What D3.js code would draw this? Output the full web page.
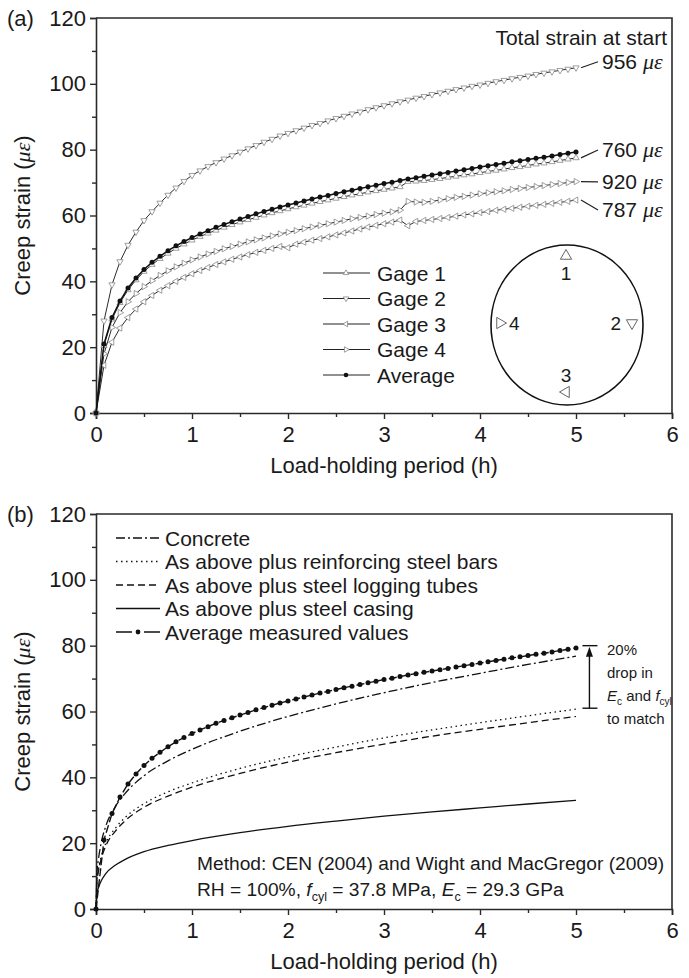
<!DOCTYPE html>
<html><head><meta charset="utf-8">
<script src="https://cdn.jsdelivr.net/npm/d3@7"></script>
<style>
body{margin:0;background:#fff}
svg text{font-family:"Liberation Sans",Arial,sans-serif;fill:#1a1a1a}
</style>
</head><body>
<svg id="c" width="689" height="978"></svg>
<script>
// ---------- DATA ----------
const minutes = [0,5,10,15,20,25,30,35,40,45,50,55,60,65,70,75,80,85,90,95,100,105,110,115,120,125,130,135,140,145,150,155,160,165,170,175,180,185,190,195,200,205,210,215,220,225,230,235,240,245,250,255,260,265,270,275,280,285,290,295,300];
const gage1 = [0,20.5,28.5,33.5,37.4,40.4,43,45.1,46.9,48.5,50,51.3,52.5,53.6,54.6,55.5,56.4,57.2,58,58.7,59.4,60.1,60.8,61.4,62,62.6,63.1,63.7,64.2,64.7,65.2,65.7,66.2,66.6,67.1,67.5,67.9,68.3,68.7,70.3,70.4,70.6,70.9,71.2,71.6,71.9,72.3,72.6,73,73.4,73.7,74.1,74.5,74.8,75.2,75.6,75.9,76.3,76.7,77.1,77.5];
const gage2 = [0,28,39,46,51,55,58.5,61.2,63.8,66.2,68.4,70.4,72.2,73.6,74.9,76.1,77.2,78.2,79.3,80.3,81.3,82.3,83.2,84.2,85,85.8,86.6,87.4,88,88.8,89.5,90.2,90.9,91.5,92.2,92.8,93.4,94,94.6,95.1,95.7,96.2,96.8,97.3,97.8,98.3,98.8,99.3,99.7,100.2,100.7,101.1,101.6,102,102.4,102.9,103.3,103.7,104.1,104.5,104.9];
const gage3 = [0,14.5,21.5,25.8,29,31.6,33.8,35.7,37.3,38.7,40,41.2,42.3,43.3,44.2,45.1,45.9,46.7,47.4,48.1,48.8,49.4,50,50.6,50.2,51.3,51.9,52.5,53,53.5,54.1,54.7,55.3,55.9,56.5,57,57.5,58,58.6,56.9,58.2,58.5,58.8,59.1,59.4,59.8,60.2,60.5,60.9,61.2,61.6,61.9,62.2,62.5,62.8,63.1,63.4,63.7,64,64.3,64.7];
const gage4 = [0,18,26,30.5,33.8,36.3,38.4,40.2,41.8,43.2,44.4,45.5,46.5,47.4,48.3,49.1,49.9,50.6,51.3,52,52.6,53.2,53.8,54.4,54.9,55.4,56,56.5,57,57.5,58,58.5,59,59.4,59.8,60.3,60.7,61.1,61.6,64.3,64.1,64,64.3,64.7,65.1,65.5,65.8,66.2,66.6,66.9,67.2,67.5,67.9,68.2,68.5,68.8,69.1,69.4,69.7,70,70.3];
const average = [0,21,29,34,38,41,43.6,45.8,47.6,49.3,50.8,52.1,53.3,54.4,55.4,56.4,57.3,58.1,58.9,59.7,60.5,61.2,61.9,62.6,63.2,63.8,64.4,65,65.6,66.1,66.7,67.2,67.7,68.2,68.7,69.2,69.7,70.1,70.6,71.1,71.5,71.9,72.3,72.7,73.1,73.5,73.9,74.3,74.7,75.1,75.5,75.9,76.3,76.6,77,77.4,77.7,78.1,78.5,78.9,79.3];
const gageNames = ["Gage 1","Gage 2","Gage 3","Gage 4","Average"];
const startStrain = ["760","956","787","920"];

const modelHours = [0,0.01,0.025,0.05,0.1,0.2,0.3,0.5,0.75,1,1.5,2,2.5,3,3.5,4,4.5,5];
const concrete  = [0,11,15,19.5,25,31,35,40.5,45,48.5,54,58.5,62.3,65.7,68.8,71.6,74.3,76.8];
const plusBars  = [0,8.7,11.8,15.4,19.8,24.5,27.7,32,35.6,38.3,42.7,46.2,49.2,52,54.4,56.6,58.7,60.7];
const plusTubes = [0,8.4,11.4,14.8,19,23.6,26.7,30.9,34.3,37,41.2,44.6,47.5,50.1,52.5,54.6,56.6,58.5];
const plusCasing= [0,4.7,6.4,8.3,10.7,13.3,15,17.4,19.3,20.8,23.2,25.1,26.7,28.2,29.5,30.7,31.9,33];
const modelNames = ["Concrete","As above plus reinforcing steel bars","As above plus steel logging tubes","As above plus steel casing","Average measured values"];

const xTicks = [0,1,2,3,4,5,6];
const yTicks = [0,20,40,60,80,100,120];

// ---------- SETUP ----------
const svg = d3.select("#c");
const FONT = 22;
const x = d3.scaleLinear().domain([0,6]).range([96,672]);
const yA = d3.scaleLinear().domain([0,120]).range([413,18]);
const yB = d3.scaleLinear().domain([0,120]).range([909,514]);
const hours = minutes.map(m => m/60);
const AX = "#2a2a2a";

function drawAxes(y, tag){
  const g = svg.append("g");
  const bottom = y.range()[0], top = y.range()[1];
  g.append("g").attr("transform",`translate(0,${bottom})`)
    .call(d3.axisBottom(x).tickValues(d3.range(0.5,6,1)).tickSize(4).tickFormat(""))
    .call(a=>a.select(".domain").remove());
  g.append("g").attr("transform",`translate(${x(0)},0)`)
    .call(d3.axisLeft(y).tickValues(d3.range(10,120,20)).tickSize(4).tickFormat(""))
    .call(a=>a.select(".domain").remove());
  const xa = g.append("g").attr("transform",`translate(0,${bottom})`)
    .call(d3.axisBottom(x).tickValues(xTicks).tickSize(6).tickPadding(7).tickFormat(d3.format("d")));
  const ya = g.append("g").attr("transform",`translate(${x(0)},0)`)
    .call(d3.axisLeft(y).tickValues(yTicks).tickSize(6).tickPadding(4).tickFormat(d3.format("d")));
  [xa,ya].forEach(a=>{
    a.selectAll("text").attr("font-size",FONT).attr("font-family",'"Liberation Sans",Arial,sans-serif').attr("fill","#1a1a1a");
  });
  g.selectAll(".tick line").attr("stroke",AX).attr("stroke-width",1.4);
  g.selectAll(".domain").attr("stroke",AX).attr("stroke-width",1.6);
  g.append("path").attr("d",`M${x(0)},${top}H${x(6)}V${bottom}`).attr("fill","none").attr("stroke",AX).attr("stroke-width",1.6);
  g.append("text").attr("x",7).attr("y",top+8).attr("font-size",FONT).text(tag);
  g.append("text").attr("x",(x(0)+x(6))/2).attr("y",bottom+60).attr("text-anchor","middle").attr("font-size",FONT).text("Load-holding period (h)");
  const yt = g.append("text").attr("transform",`translate(30,${(top+bottom)/2}) rotate(-90)`).attr("text-anchor","middle").attr("font-size",FONT);
  yt.append("tspan").text("Creep strain (");
  yt.append("tspan").attr("font-family",'"Liberation Serif","DejaVu Serif",serif').attr("font-style","italic").text("με");
  yt.append("tspan").text(")");
}

drawAxes(yA,"(a)");
drawAxes(yB,"(b)");

// ---------- PANEL A ----------
const gages = [gage1,gage2,gage3,gage4];
const rot = [0,180,270,90]; // up, down, left, right
const lineA = d3.line().x((d,i)=>x(hours[i])).y(d=>yA(d));
const tri = d3.symbol(d3.symbolTriangle, 17);
const pA = svg.append("g");
gages.forEach((vals,k)=>{
  pA.append("path").attr("d",lineA(vals)).attr("fill","none").attr("stroke","#2a2a2a").attr("stroke-width",1);
});
gages.forEach((vals,k)=>{
  pA.append("g").selectAll("path").data(vals).join("path")
    .attr("d",tri).attr("transform",(d,i)=>`translate(${x(hours[i])},${yA(d)}) rotate(${rot[k]})`)
    .attr("fill","#fff").attr("stroke","#888").attr("stroke-width",0.8);
});
pA.append("path").attr("d",lineA(average)).attr("fill","none").attr("stroke","#111").attr("stroke-width",1.5);
pA.append("g").selectAll("circle").data(average).join("circle")
  .attr("cx",(d,i)=>x(hours[i])).attr("cy",d=>yA(d)).attr("r",2.5).attr("fill","#111");

// end labels
svg.append("text").attr("x",667).attr("y",45).attr("text-anchor","end").attr("font-size",FONT-1).text("Total strain at start");
const labelVals = [79.9,106.7,61.7,70.2];
gages.forEach((vals,k)=>{
  const last = vals[vals.length-1];
  svg.append("line").attr("x1",x(5)+5).attr("y1",yA(last)).attr("x2",x(5)+22).attr("y2",yA(labelVals[k]))
    .attr("stroke","#222").attr("stroke-width",1.2);
  const t = svg.append("text").attr("x",x(5)+26).attr("y",yA(labelVals[k])+7.5).attr("font-size",FONT-1);
  t.append("tspan").text(startStrain[k]+" ");
  t.append("tspan").attr("font-family",'"Liberation Serif","DejaVu Serif",serif').attr("font-style","italic").attr("font-size",FONT).text("με");
});

// legend A
const legA = svg.append("g");
gageNames.forEach((n,k)=>{
  const cy = 273 + k*25.5;
  legA.append("line").attr("x1",323).attr("x2",370).attr("y1",cy).attr("y2",cy).attr("stroke","#222").attr("stroke-width",1.2);
  if(k<4){
    legA.append("path").attr("d",d3.symbol(d3.symbolTriangle,13)()).attr("transform",`translate(346,${cy}) rotate(${rot[k]})`)
      .attr("fill","#fff").attr("stroke","#888").attr("stroke-width",0.8);
  } else {
    legA.append("circle").attr("cx",346).attr("cy",cy).attr("r",2.3).attr("fill","#111");
  }
  legA.append("text").attr("x",377).attr("y",cy+7.5).attr("font-size",FONT-1).text(n);
});

// cross-section diagram
const cs = svg.append("g");
cs.append("ellipse").attr("cx",567).attr("cy",325).attr("rx",76).attr("ry",80).attr("fill","none").attr("stroke","#111").attr("stroke-width",1.6);
const bigTri = d3.symbol(d3.symbolTriangle,55)();
[[566,256,0],[632,323,180],[566,392,270],[500,323,90]].forEach(p=>{
  cs.append("path").attr("d",bigTri).attr("transform",`translate(${p[0]},${p[1]}) rotate(${p[2]})`).attr("fill","#fff").attr("stroke","#666").attr("stroke-width",1);
});
[["1",566,280,"middle"],["2",621,330,"end"],["3",566,382,"middle"],["4",509,330,"start"]].forEach(p=>{
  cs.append("text").attr("x",p[1]).attr("y",p[2]).attr("text-anchor",p[3]).attr("font-size",19).text(p[0]);
});

// ---------- PANEL B ----------
const lineB = d3.line().x((d,i)=>x(modelHours[i])).y(d=>yB(d)).curve(d3.curveMonotoneX);
const models = [
  {v:concrete, dash:"9,3,2,3"},
  {v:plusBars, dash:"1.5,3.5"},
  {v:plusTubes, dash:"7,4"},
  {v:plusCasing, dash:null}
];
const pB = svg.append("g");
models.forEach(m=>{
  pB.append("path").attr("d",lineB(m.v)).attr("fill","none").attr("stroke","#111").attr("stroke-width",1.3)
    .attr("stroke-dasharray",m.dash);
});
const lineB2 = d3.line().x((d,i)=>x(hours[i])).y(d=>yB(d));
pB.append("path").attr("d",lineB2(average)).attr("fill","none").attr("stroke","#111").attr("stroke-width",1.4).attr("stroke-dasharray","8,3");
pB.append("g").selectAll("circle").data(average).join("circle")
  .attr("cx",(d,i)=>x(hours[i])).attr("cy",d=>yB(d)).attr("r",2.5).attr("fill","#111");

// legend B
const legB = svg.append("g");
const dashes = ["9,3,2,3","1.5,3.5","7,4",null,"16,12"];
modelNames.forEach((n,k)=>{
  const cy = 538 + k*23.5;
  legB.append("line").attr("x1",116).attr("x2",160).attr("y1",cy).attr("y2",cy).attr("stroke","#111").attr("stroke-width",1.3).attr("stroke-dasharray",dashes[k]);
  if(k===4) legB.append("circle").attr("cx",138).attr("cy",cy).attr("r",2.4).attr("fill","#111");
  legB.append("text").attr("x",165).attr("y",cy+7.5).attr("font-size",FONT-1).text(n);
});

// bracket
const bx = x(5.14);
const bTop = yB(80), bBot = yB(61);
const br = svg.append("g").attr("stroke","#111").attr("stroke-width",1.4);
br.append("line").attr("x1",bx-7).attr("x2",bx+8).attr("y1",bTop).attr("y2",bTop);
br.append("line").attr("x1",bx-7).attr("x2",bx+8).attr("y1",bBot).attr("y2",bBot);
br.append("line").attr("x1",bx).attr("x2",bx).attr("y1",bTop+6).attr("y2",bBot);
svg.append("path").attr("d",`M${bx},${bTop+1}L${bx-3.5},${bTop+11}L${bx+3.5},${bTop+11}Z`).attr("fill","#111");
const nt = svg.append("g");
const ntx = 607;
nt.append("text").attr("x",ntx).attr("y",bTop+9).attr("font-size",15).text("20%");
nt.append("text").attr("x",ntx).attr("y",bTop+32).attr("font-size",15).text("drop in");
const t3 = nt.append("text").attr("x",ntx).attr("y",bTop+55).attr("font-size",15);
t3.append("tspan").attr("font-style","italic").text("E");
t3.append("tspan").attr("font-size",10).attr("dy",4).text("c");
t3.append("tspan").attr("dy",-4).text(" and ");
t3.append("tspan").attr("font-style","italic").text("f");
t3.append("tspan").attr("font-size",10).attr("dy",4).text("cyl");
nt.append("text").attr("x",ntx).attr("y",bTop+78).attr("font-size",15).text("to match");

// method text
svg.append("text").attr("x",197).attr("y",870).attr("font-size",19.2).text("Method: CEN (2004) and Wight and MacGregor (2009)");
const m2 = svg.append("text").attr("x",197).attr("y",896).attr("font-size",19.2);
m2.append("tspan").text("RH = 100%, ");
m2.append("tspan").attr("font-style","italic").text("f");
m2.append("tspan").attr("font-size",12.5).attr("dy",5).text("cyl");
m2.append("tspan").attr("dy",-5).text(" = 37.8 MPa, ");
m2.append("tspan").attr("font-style","italic").text("E");
m2.append("tspan").attr("font-size",12.5).attr("dy",5).text("c");
m2.append("tspan").attr("dy",-5).text(" = 29.3 GPa");
</script>
</body></html>
